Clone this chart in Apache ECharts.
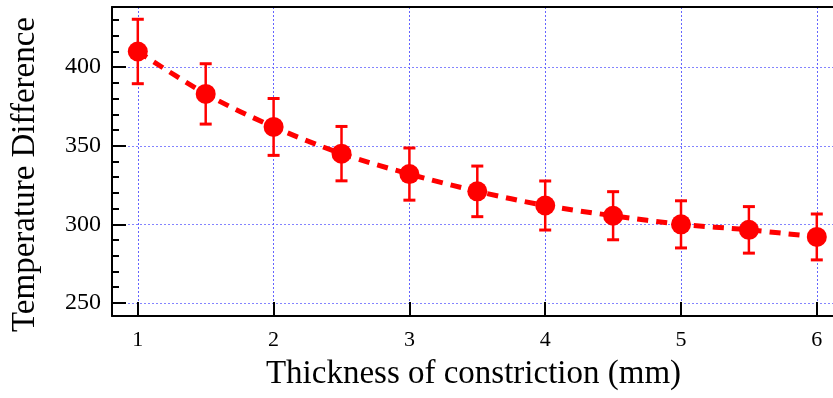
<!DOCTYPE html>
<html>
<head>
<meta charset="utf-8">
<script src="https://cdn.jsdelivr.net/npm/echarts@6/dist/echarts.min.js"></script>
<style>
  html, body { margin: 0; padding: 0; background: #fff; }
  #chart { width: 833px; height: 398px; }
</style>
</head>
<body>
<div id="chart"></div>
<script>
// values
const thickness = [1, 1.5, 2, 2.5, 3, 3.5, 4, 4.5, 5, 5.5, 6];
const tempDiff = [410, 383, 362, 345, 332, 321, 312, 305.5, 300, 296.5, 292];
const errSize = [20.5, 19.2, 18.1, 17.3, 16.6, 16.1, 15.6, 15.3, 15, 14.8, 14.6];

const yMinorTicks = [260, 270, 280, 290, 310, 320, 330, 340, 360, 370, 380, 390, 410, 420, 430];

const FONT = 'Liberation Serif';
const RED = '#ff0000';
const GRID_X = '#6464ff';
const GRID_Y = '#8484ff';

const X_MIN = 0.81, X_MAX = 6.134;
const Y_MIN = 241.7, Y_MAX = 438.3;

const points = thickness.map((x, i) => [x, tempDiff[i]]);
const bars = thickness.map((x, i) => [x, tempDiff[i] - errSize[i], tempDiff[i] + errSize[i]]);

const chart = echarts.init(document.getElementById('chart'), null, { renderer: 'canvas' });

chart.setOption({
  backgroundColor: '#fff',
  animation: false,
  grid: { left: 112, right: -2, top: 7, bottom: 82, outerBoundsMode: 'none' },
  xAxis: [
    {
      type: 'value',
      min: X_MIN,
      max: X_MAX,
      splitNumber: 5,
      name: 'Thickness of constriction (mm)',
      nameLocation: 'middle',
      nameGap: 42,
      nameTextStyle: { fontFamily: FONT, fontSize: 33, color: '#000' },
      axisLine: { lineStyle: { color: '#000', width: 2 } },
      axisTick: { inside: true, length: 14, lineStyle: { color: '#000', width: 2 } },
      axisLabel: {
        showMinLabel: false, showMaxLabel: false,
        fontFamily: FONT, fontSize: 22, color: '#000', margin: 13
      },
      splitLine: { show: true, lineStyle: { color: GRID_X, type: [2, 2], width: 1 } }
    },
    {
      // top border
      type: 'value',
      position: 'top',
      min: X_MIN,
      max: X_MAX,
      axisLine: { show: true, lineStyle: { color: '#000', width: 2 } },
      axisTick: { show: false },
      axisLabel: { show: false },
      splitLine: { show: false }
    }
  ],
  yAxis: [
    {
      type: 'value',
      min: Y_MIN,
      max: Y_MAX,
      splitNumber: 4,
      name: 'Temperature Difference',
      nameLocation: 'middle',
      nameGap: 70,
      nameTextStyle: { fontFamily: FONT, fontSize: 33, color: '#000', padding: [0, 26, 0, 0] },
      axisLine: { show: true, lineStyle: { color: '#000', width: 2 } },
      axisTick: { inside: true, length: 14, lineStyle: { color: '#000', width: 2 } },
      axisLabel: {
        showMinLabel: false, showMaxLabel: false,
        fontFamily: FONT, fontSize: 24, color: '#000', margin: 11
      },
      splitLine: { show: true, lineStyle: { color: GRID_Y, type: [2, 2], width: 1 } }
    },
    {
      // minor ticks
      type: 'value',
      position: 'left',
      min: Y_MIN,
      max: Y_MAX,
      axisLine: { show: false },
      axisTick: { show: true, inside: true, length: 7, customValues: yMinorTicks, lineStyle: { color: '#000', width: 2 } },
      axisLabel: { show: false },
      splitLine: { show: false }
    }
  ],
  series: [
    {
      type: 'line',
      data: points,
      smooth: 0.3,
      showSymbol: false,
      lineStyle: { color: RED, width: 5, type: [11, 8] },
      z: 2
    },
    {
      type: 'custom',
      data: bars,
      renderItem: (params, api) => {
        const x = api.value(0);
        const lo = api.coord([x, api.value(1)]);
        const hi = api.coord([x, api.value(2)]);
        const cap = 6;
        const style = { stroke: RED, lineWidth: 2.5, fill: null };
        return {
          type: 'group',
          children: [
            { type: 'line', shape: { x1: lo[0], y1: lo[1], x2: hi[0], y2: hi[1] }, style },
            { type: 'line', shape: { x1: lo[0] - cap, y1: lo[1], x2: lo[0] + cap, y2: lo[1] }, style: { ...style, lineWidth: 3 } },
            { type: 'line', shape: { x1: hi[0] - cap, y1: hi[1], x2: hi[0] + cap, y2: hi[1] }, style: { ...style, lineWidth: 3 } }
          ]
        };
      },
      z: 3
    },
    {
      type: 'scatter',
      data: points,
      symbol: 'circle',
      symbolSize: 20,
      itemStyle: { color: RED, opacity: 1 },
      z: 4
    }
  ]
});
</script>
</body>
</html>
